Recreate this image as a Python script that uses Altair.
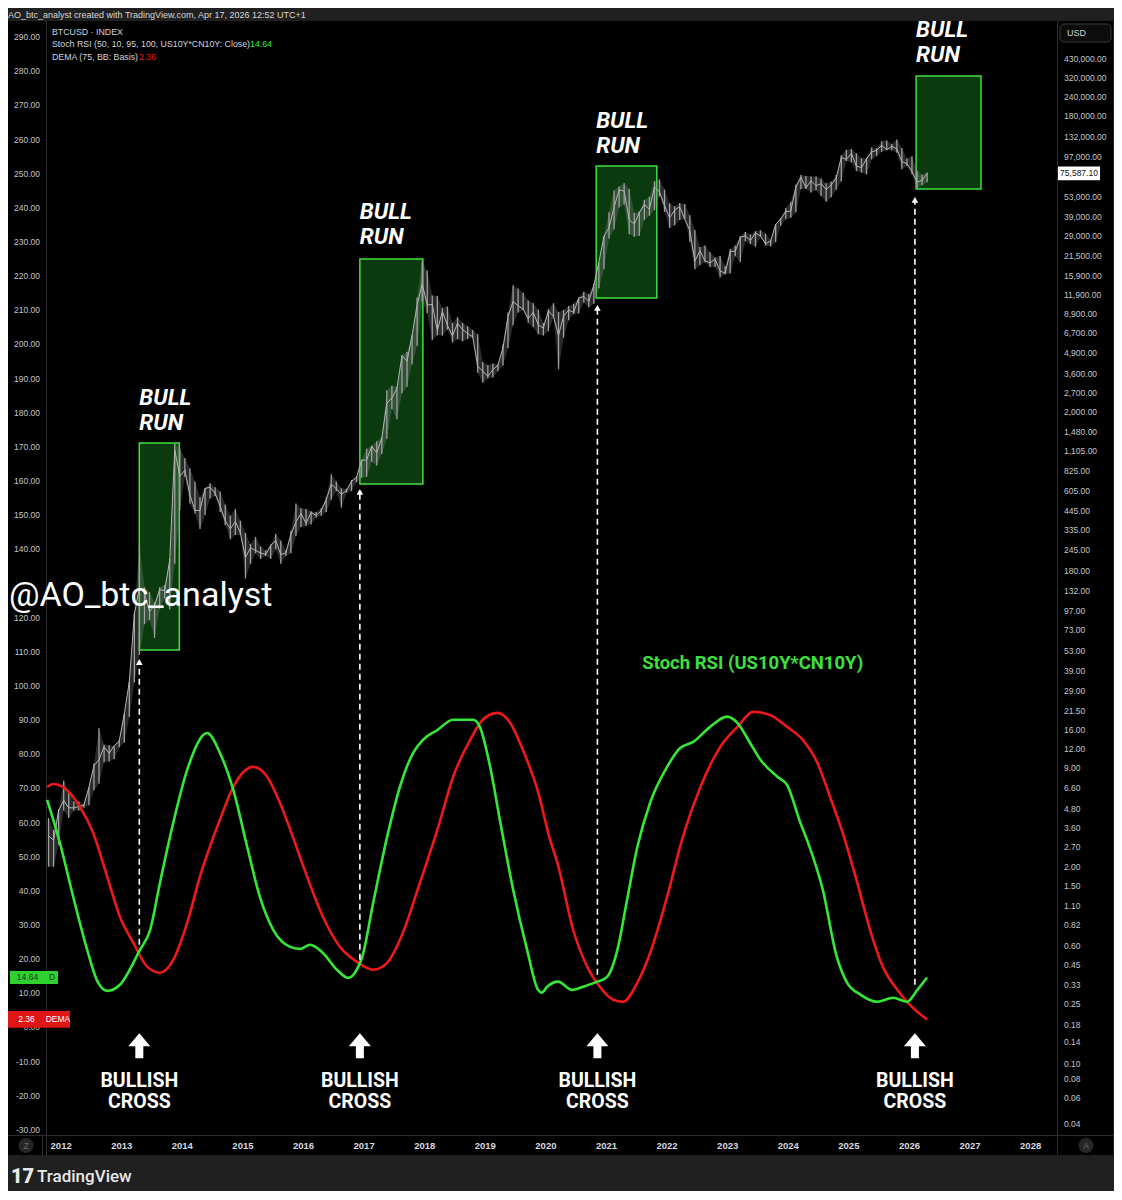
import altair as alt
import pandas as pd

# ---------------- BTCUSD monthly bars, Oct 2011 - Apr 2026 ----------------
price_high = [
    4.2, 3.5, 4.8,
    7.4, 6.3, 5.4, 5.4, 5.2, 6.7, 9.6, 16.4, 12.8, 12.7, 12.5, 13.8,
    20.5, 33.5, 95, 266, 140, 130, 111, 140, 145, 215, 1240, 1150,
    1000, 850, 700, 550, 630, 680, 640, 600, 490, 415, 460, 385,
    320, 270, 300, 260, 245, 268, 315, 285, 245, 330, 500, 465,
    460, 445, 440, 465, 550, 780, 700, 630, 625, 715, 755, 975,
    1150, 1210, 1290, 1375, 2800, 3000, 2950, 4760, 5000, 6470, 11500, 19800,
    17200, 11800, 11700, 9750, 9990, 7770, 8500, 7780, 7400, 7000, 6550, 4300,
    4100, 4200, 4140, 5600, 9100, 13800, 13100, 12300, 10950, 10500, 9500, 7750,
    9600, 10500, 9200, 9470, 10070, 10400, 11450, 12480, 12100, 14100, 19500, 29300,
    41900, 58300, 61800, 64900, 59600, 41300, 42300, 50500, 52900, 67000, 69000, 59100,
    48000, 45800, 48200, 47400, 39900, 31900, 24700, 25200, 22800, 21000, 21500, 18400,
    23900, 25200, 29200, 31000, 29800, 31400, 31800, 30200, 27500, 35000, 38400, 44700,
    49000, 63900, 73800, 72700, 72000, 72000, 70000, 65000, 66500, 73600, 99600, 108300,
    109400, 102500, 95000, 95700, 111900, 110500, 123200, 124400, 117900, 126200, 111200, 94600,
    97900, 79000, 74000, 76500,
]
price_low = [
    2.0, 2.0, 2.8,
    4.7, 4.2, 4.7, 4.7, 4.9, 5.1, 6.4, 7.1, 9.8, 9.9, 10.3, 12.3,
    13.2, 19.5, 33, 50, 80, 85, 65, 101, 118, 100, 200, 450,
    750, 500, 430, 340, 420, 540, 560, 440, 360, 290, 310, 310,
    160, 200, 235, 215, 225, 215, 250, 200, 225, 235, 305, 350,
    355, 365, 405, 415, 440, 530, 605, 470, 590, 605, 690, 740,
    750, 945, 890, 1060, 1340, 2100, 1800, 2670, 2950, 4150, 5500, 10800,
    9000, 6000, 6450, 6430, 7050, 5780, 6070, 5880, 6100, 6200, 3650, 3150,
    3350, 3390, 3730, 4080, 5300, 7500, 9100, 9450, 7800, 7300, 6550, 6430,
    6860, 8450, 3850, 6200, 8100, 8900, 8980, 10600, 9880, 10400, 13200, 17600,
    28100, 32300, 45000, 47000, 30000, 28800, 29300, 37300, 39600, 43300, 53300, 42000,
    32900, 34300, 37200, 37600, 26700, 17600, 18800, 19600, 18200, 18200, 15500, 16300,
    16500, 21400, 19600, 26900, 25800, 24800, 28900, 25200, 24900, 26600, 34100, 37600,
    38500, 41900, 59300, 59600, 56500, 58500, 53500, 49000, 52600, 58900, 66800, 91300,
    89200, 78200, 76600, 74400, 93400, 98200, 105100, 107300, 107300, 103500, 80500, 84400,
    74500, 60000, 63000, 66000,
]
price_close = [
    3.2, 3.0, 4.7,
    5.5, 4.9, 4.9, 5.0, 5.1, 6.7, 9.3, 10.2, 12.4, 11.2, 12.6, 13.5,
    20.4, 33.4, 93, 139, 128, 97, 106, 135, 133, 211, 1130, 757,
    830, 570, 450, 450, 630, 640, 585, 480, 385, 340, 380, 320,
    220, 255, 245, 236, 230, 264, 285, 230, 236, 312, 378, 430,
    370, 437, 416, 448, 530, 670, 625, 575, 608, 700, 745, 965,
    970, 1190, 1080, 1350, 2300, 2480, 2870, 4740, 4340, 6450, 10200, 14150,
    10200, 10300, 6930, 9250, 7500, 6400, 7730, 7030, 6630, 6300, 4020, 3740,
    3460, 3820, 4100, 5320, 8570, 10800, 10080, 9600, 8300, 9150, 7550, 7200,
    9350, 8600, 6440, 8630, 9450, 9140, 11330, 11650, 10780, 13800, 19700, 29000,
    33100, 45200, 58800, 57700, 37300, 35000, 41500, 47100, 43800, 61300, 57000, 46300,
    38500, 43200, 45500, 37700, 31800, 19900, 23300, 20000, 19400, 20500, 17200, 16500,
    23100, 23100, 28500, 29300, 27200, 30500, 29200, 25900, 27000, 34700, 37700, 42300,
    42600, 61200, 71300, 60700, 67500, 62700, 64600, 59000, 63300, 70200, 96400, 93400,
    102400, 84300, 82500, 94200, 104600, 107100, 115700, 108200, 114000, 109500, 90400, 87500,
    78000, 66000, 68000, 75587.10,
]
# month centres (Oct 2011 is month index 9 of 2011)
price_t = [2011 + (9 + i + 0.5) / 12 for i in range(len(price_close))]

green_t = [2011.77, 2011.98, 2012.20, 2012.43, 2012.61, 2012.76, 2012.97, 2013.30, 2013.47, 2013.63,
           2013.85, 2014.08, 2014.41, 2014.62, 2014.84, 2015.07, 2015.28, 2015.50, 2015.78, 2015.94,
           2016.11, 2016.32, 2016.55, 2016.74, 2016.88, 2016.97, 2017.15, 2017.38, 2017.59, 2017.81,
           2017.97, 2018.21, 2018.47, 2018.80, 2018.91, 2019.08, 2019.24, 2019.46, 2019.69, 2019.87,
           2019.93, 2020.02, 2020.20, 2020.43, 2020.61, 2020.85, 2021.01, 2021.18, 2021.34, 2021.51,
           2021.72, 2022.00, 2022.22, 2022.43, 2022.71, 2022.99, 2023.16, 2023.37, 2023.54, 2023.82,
           2023.98, 2024.20, 2024.31, 2024.57, 2024.80, 2024.97, 2025.19, 2025.47, 2025.73, 2025.96,
           2026.13, 2026.29]
green_v = [66.6, 54, 38.2, 22.7, 13.1, 10.7, 12.5, 22.7, 28.6, 42.3,
           59.9, 75.4, 86.2, 80.4, 69.6, 52.9, 38.2, 28.6, 23.6, 23.0,
           24.2, 21.8, 16.9, 14.5, 16.9, 20.7, 36.5, 55.8, 70.4, 80.4,
           84.2, 87.1, 90.1, 90.1, 88, 76.3, 60.8, 40.3, 22.7, 11,
           10.2, 11.9, 13.4, 11.0, 11.9, 13.4, 14.8, 22.7, 37.4, 52.9,
           65.8, 76.3, 81.9, 83.6, 88, 91, 89.2, 83.3, 78.4, 73.4,
           71.0, 59.9, 54.9, 40.3, 20.7, 13.1, 9.6, 7.5, 8.7, 7.5,
           11, 14.64]
red_t = [2011.77, 2011.87, 2012.03, 2012.31, 2012.53, 2012.76, 2012.97, 2013.19, 2013.42, 2013.63,
         2013.85, 2014.08, 2014.29, 2014.62, 2014.84, 2015.17, 2015.40, 2015.61, 2015.78, 2015.89,
         2016.06, 2016.32, 2016.60, 2016.88, 2017.15, 2017.38, 2017.64, 2017.92, 2018.21, 2018.47,
         2018.75, 2018.96, 2019.20, 2019.41, 2019.62, 2019.86, 2020.07, 2020.19, 2020.45, 2020.68,
         2020.89, 2021.11, 2021.27, 2021.51, 2021.72, 2022.00, 2022.26, 2022.55, 2022.88, 2023.16,
         2023.42, 2023.70, 2023.98, 2024.24, 2024.48, 2024.69, 2024.90, 2025.14, 2025.35, 2025.56,
         2025.80, 2025.96, 2026.13, 2026.29]
red_v = [70.4, 71.3, 70.4, 64.6, 56.9, 44.1, 32.4, 24.8, 17.8, 16.0,
         19.8, 30.6, 44.1, 60.8, 70.4, 76.3, 73.4, 65.8, 58.0, 52.5,
         44.1, 32.4, 23.6, 19.2, 16.9, 18.9, 27.7, 42.3, 57.9, 73.4,
         84.2, 90.1, 92.1, 89.2, 81.3, 69.6, 54.9, 48.2, 28.6, 17.8,
         11.9, 8.1, 7.5, 13.1, 21.8, 38.2, 55.8, 70.4, 82.2, 88,
         92.4, 91.5, 88, 84.2, 77.5, 67.5, 56.9, 42.3, 28.6, 17.8,
         11.0, 7.5, 4.6, 2.36]

# ---------------- annotations ----------------
cross_t = [2013.29, 2016.93, 2020.85, 2026.09]        # bullish cross dates
cross_bottom = [24.2, 19.8, 15.4, 12.5]                # dashed arrow start (left scale)
cross_top = [107.0, 156.8, 210.7, 242.3]               # dashed arrow tip (left scale)
box_t0 = [2013.29, 2016.93, 2020.83, 2026.11]
box_t1 = [2013.95, 2017.97, 2021.83, 2027.18]
box_top = [1254, 20560, 84500, 332000]
box_bottom = [54, 673, 11350, 59600]
bull_price = [2485, 41980, 167500, 667000]

# ---------------- tick labels (130.00 is hidden under the watermark in the original) ----------------
year_ticks = list(range(2012, 2029))
left_ticks = [-30, -20, -10, 0, 10, 20, 30, 40, 50, 60, 70, 80, 90, 100, 110, 120, 140, 150, 160,
              170, 180, 190, 200, 210, 220, 230, 240, 250, 260, 270, 280, 290]
right_ticks = [430000, 320000, 240000, 180000, 132000, 97000, 53000, 39000, 29000, 21500, 15900,
               11900, 8900, 6700, 4900, 3600, 2700, 2000, 1480, 1105, 825, 605, 445, 335, 245, 180,
               132, 97, 73, 53, 39, 29, 21.5, 16, 12, 9, 6.6, 4.8, 3.6, 2.7, 2.0, 1.5, 1.1, 0.82,
               0.60, 0.45, 0.33, 0.25, 0.18, 0.14, 0.10, 0.08, 0.06, 0.04]

# ---------------- styling ----------------
W, H = 1011, 1114
XS = alt.Scale(domain=[2011.75, 2028.435], nice=False, zero=False)
IS = alt.Scale(domain=[-31.5, 294.7], nice=False, zero=False)
PS = alt.Scale(type="log", domain=[0.03395, 765500], nice=False)
GREEN = "#36e836"
RED = "#f01818"
LBL = "#c3c6cc"
UI_FONT = "Liberation Sans"
BOLD_FONT = "Roboto"
SEP = "#2c2c2c"
FRAME = "#202020"

one = pd.DataFrame({"k": [0]})


def ptxt(s, x, y, size, color, align="left", weight="normal", font=UI_FONT, style="normal"):
    return alt.Chart(one).mark_text(
        text=s, align=align, baseline="middle", fontSize=size, color=color,
        fontWeight=weight, font=font, fontStyle=style
    ).encode(x=alt.value(x), y=alt.value(y))


def prule(x, x2, y, y2, color=SEP, w=1):
    return alt.Chart(one).mark_rule(color=color, strokeWidth=w).encode(
        x=alt.value(x), x2=alt.value(x2), y=alt.value(y), y2=alt.value(y2))


def prect(x, x2, y, y2, color=FRAME):
    return alt.Chart(one).mark_rect(color=color).encode(
        x=alt.value(x), x2=alt.value(x2), y=alt.value(y), y2=alt.value(y2))


# grey frame around the black TradingView pane, and pane separators
frame = alt.layer(
    prect(-40, 1080, -14, 0),          # header strip
    prect(-40, 1080, 1134, 1180),      # footer strip
    prect(1067, 1080, -14, 1180),      # right strip
    prule(-38, 1067, 1114.5, 1114.5),
    prule(0.5, 0.5, 0, 1134),
    prule(1011.5, 1011.5, 0, 1134),
    prule(-3.5, -3.5, 1114.5, 1134),
)

# ---------------- price group (right log scale) ----------------
price_df = pd.DataFrame({"t": price_t, "high": price_high, "low": price_low, "close": price_close})
box_df = pd.DataFrame({"t0": box_t0, "t1": box_t1, "top": box_top, "bottom": box_bottom, "bull": bull_price})
last_df = pd.DataFrame({"p": [price_close[-1]], "lbl": ["75,587.10"]})
rt_df = pd.DataFrame({"v": right_ticks, "lbl": [f"{v:,.2f}" for v in right_ticks]})
yr_df = pd.DataFrame({"v": year_ticks, "lbl": [str(v) for v in year_ticks]})

boxes = alt.Chart(box_df).mark_rect(fill="#0b3a0f", stroke="#3fe03f", strokeWidth=1.5).encode(
    x=alt.X("t0:Q", scale=XS, axis=None), x2="t1:Q",
    y=alt.Y("top:Q", scale=PS, axis=None), y2="bottom:Q")
band = alt.Chart(price_df).mark_area(color="#8c8c8c", opacity=0.3).encode(
    x=alt.X("t:Q", scale=XS, axis=None), y=alt.Y("low:Q", scale=PS, axis=None), y2="high:Q")
bars = alt.Chart(price_df).mark_rule(color="#a0a0a0", strokeWidth=1.3).encode(
    x=alt.X("t:Q", scale=XS, axis=None), y=alt.Y("low:Q", scale=PS, axis=None), y2="high:Q")
closes = alt.Chart(price_df).mark_line(color="#b4b4b4", strokeWidth=1).encode(
    x=alt.X("t:Q", scale=XS, axis=None), y=alt.Y("close:Q", scale=PS, axis=None))
bull_style = dict(align="left", baseline="middle", fontSize=22.5, fontWeight="bold", fontStyle="italic",
                  color="white", font=BOLD_FONT)
bull1 = alt.Chart(box_df).mark_text(text="BULL", **bull_style).encode(
    x=alt.X("t0:Q", scale=XS, axis=None), y=alt.Y("bull:Q", scale=PS, axis=None))
bull2 = alt.Chart(box_df).mark_text(text="RUN", dy=25, **bull_style).encode(
    x=alt.X("t0:Q", scale=XS, axis=None), y=alt.Y("bull:Q", scale=PS, axis=None))
right_labels = alt.Chart(rt_df).mark_text(align="left", baseline="middle", fontSize=8.5, color=LBL,
                                          font=UI_FONT).encode(
    x=alt.value(1018), y=alt.Y("v:Q", scale=PS, axis=None), text="lbl:N")
year_labels = alt.Chart(yr_df).mark_text(align="center", baseline="middle", fontSize=9.5, fontWeight="bold",
                                         color="#d8dae0", font=UI_FONT).encode(
    x=alt.X("v:Q", scale=XS, axis=None), y=alt.value(1124.5), text="lbl:N")
RECT_SHAPE = "M-1,-0.33L1,-0.33L1,0.33L-1,0.33Z"
last_box = alt.Chart(last_df).mark_point(shape=RECT_SHAPE, size=1764, filled=True, color="white", opacity=1).encode(
    x=alt.value(1033), y=alt.Y("p:Q", scale=PS, axis=None))
last_txt = alt.Chart(last_df).mark_text(fontSize=8.5, color="#111111", font=UI_FONT).encode(
    x=alt.value(1033), y=alt.Y("p:Q", scale=PS, axis=None), text="lbl:N")

price_group = alt.layer(boxes, band, bars, closes, bull1, bull2, right_labels, year_labels, last_box, last_txt)

# ---------------- indicator group (left linear scale) ----------------
green_df = pd.DataFrame({"t": green_t, "v": green_v})
red_df = pd.DataFrame({"t": red_t, "v": red_v})
cross_df = pd.DataFrame({"t": cross_t, "bottom": cross_bottom, "top": cross_top})
lt_df = pd.DataFrame({"v": left_ticks, "lbl": [f"{v:.2f}" for v in left_ticks]})

left_labels = alt.Chart(lt_df).mark_text(align="right", baseline="middle", fontSize=8.5, color=LBL,
                                         font=UI_FONT).encode(
    x=alt.value(-6), y=alt.Y("v:Q", scale=IS, axis=None), text="lbl:N")
red_line = alt.Chart(red_df).mark_line(color=RED, strokeWidth=2.6, interpolate="monotone").encode(
    x=alt.X("t:Q", scale=XS, axis=None), y=alt.Y("v:Q", scale=IS, axis=None))
green_line = alt.Chart(green_df).mark_line(color=GREEN, strokeWidth=2.6, interpolate="monotone").encode(
    x=alt.X("t:Q", scale=XS, axis=None), y=alt.Y("v:Q", scale=IS, axis=None))
dash = alt.Chart(cross_df).mark_rule(color="white", strokeWidth=1.6, strokeDash=[6, 4]).encode(
    x=alt.X("t:Q", scale=XS, axis=None), y=alt.Y("bottom:Q", scale=IS, axis=None), y2="top:Q")
tip = alt.Chart(cross_df).mark_point(shape="triangle-up", size=45, filled=True, color="white", opacity=1).encode(
    x=alt.X("t:Q", scale=XS, axis=None), y=alt.Y("top:Q", scale=IS, axis=None))
ARROW = "M0,-1L0.88,0.04L0.32,0.04L0.32,1L-0.32,1L-0.32,0.04L-0.88,0.04Z"
big_arrow = alt.Chart(cross_df).mark_point(shape=ARROW, size=625, filled=True, color="white", opacity=1).encode(
    x=alt.X("t:Q", scale=XS, axis=None), y=alt.datum(-5.4))
cross_style = dict(align="center", baseline="middle", fontSize=19.5, fontWeight="bold", color="white",
                   font=BOLD_FONT)
lbl1 = alt.Chart(cross_df).mark_text(text="BULLISH", **cross_style).encode(
    x=alt.X("t:Q", scale=XS, axis=None), y=alt.datum(-15.6))
lbl2 = alt.Chart(cross_df).mark_text(text="CROSS", **cross_style).encode(
    x=alt.X("t:Q", scale=XS, axis=None), y=alt.datum(-21.8))
stoch_title = alt.Chart(one).mark_text(text="Stoch RSI (US10Y*CN10Y)", align="left", baseline="middle",
                                       fontSize=18.5, color="#3ee03e", font=BOLD_FONT, fontWeight="bold").encode(
    x=alt.datum(2021.59), y=alt.datum(106.7))
TAG = "M-1,-0.27L1,-0.27L1,0.27L-1,0.27Z"
g_tag = alt.Chart(one).mark_point(shape=TAG, size=2304, filled=True, color="#2fd12f", opacity=1).encode(
    x=alt.value(-12), y=alt.datum(14.64))
g_t1 = alt.Chart(one).mark_text(text="14.64", fontSize=8.5, color="#0d3d0d", font=UI_FONT).encode(
    x=alt.value(-18.5), y=alt.datum(14.64))
g_t2 = alt.Chart(one).mark_text(text="D", fontSize=8.5, color="#0d3d0d", font=UI_FONT).encode(
    x=alt.value(6), y=alt.datum(14.64))
r_tag = alt.Chart(one).mark_point(shape=TAG, size=3844, filled=True, color="#e01515", opacity=1).encode(
    x=alt.value(-7), y=alt.datum(2.36))
r_t1 = alt.Chart(one).mark_text(text="2.36", fontSize=8.5, color="white", font=UI_FONT).encode(
    x=alt.value(-19.5), y=alt.datum(2.36))
r_t2 = alt.Chart(one).mark_text(text="DEMA", fontSize=8.5, color="white", font=UI_FONT).encode(
    x=alt.value(12), y=alt.datum(2.36))

ind_group = alt.layer(left_labels, red_line, green_line, dash, tip, big_arrow, lbl1, lbl2, stoch_title,
                      g_tag, g_t1, g_t2, r_tag, r_t1, r_t2)

# ---------------- foreground UI text ----------------
fg = alt.layer(
    ptxt("AO_btc_analyst created with TradingView.com, Apr 17, 2026 12:52 UTC+1", -38, -6, 9, "#d6d6d6"),
    ptxt("BTCUSD \u00b7 INDEX", 6, 11, 8.8, "#d1d4dc"),
    ptxt("Stoch RSI (50, 10, 95, 100, US10Y*CN10Y: Close)", 6, 23, 8.8, "#d1d4dc"),
    ptxt("14.64", 204, 23, 8.8, GREEN),
    ptxt("DEMA (75, BB: Basis)", 6, 36, 8.8, "#d1d4dc"),
    ptxt("2.36", 93, 36, 8.8, RED),
    ptxt("@AO_btc_analyst", -37, 575, 34, "white", font=BOLD_FONT),
    alt.Chart(one).mark_rect(fill="#0c0c0c", stroke="#3a3a3a", strokeWidth=1, cornerRadius=4).encode(
        x=alt.value(1014), x2=alt.value(1065), y=alt.value(3), y2=alt.value(21)),
    ptxt("USD", 1021, 12, 9, "#d1d4dc"),
    alt.Chart(one).mark_point(shape="circle", size=230, filled=True, color="#262626", opacity=1).encode(
        x=alt.value(-20), y=alt.value(1124.5)),
    ptxt("Z", -20, 1124.5, 8.5, "#6a6a6a", align="center"),
    alt.Chart(one).mark_point(shape="circle", size=230, filled=True, color="#262626", opacity=1).encode(
        x=alt.value(1040), y=alt.value(1124.5)),
    ptxt("A", 1040, 1124.5, 8.5, "#6a6a6a", align="center"),
    ptxt("17", -35, 1156, 20, "#e8e8e8", weight=900, font=BOLD_FONT),
    ptxt("TradingView", -9, 1156, 17, "#e8e8e8", weight=500, font=BOLD_FONT),
)

chart = alt.layer(frame, price_group, ind_group, fg).resolve_scale(y="independent").properties(
    width=W, height=H,
    padding={"left": 38, "top": 13, "right": 57, "bottom": 56},
    autosize=alt.AutoSizeParams(type="none"),
    background="#000000",
).configure_view(fill="#000000", strokeWidth=0)

chart.save("out.html", embed_options={"renderer": "svg", "actions": False})
